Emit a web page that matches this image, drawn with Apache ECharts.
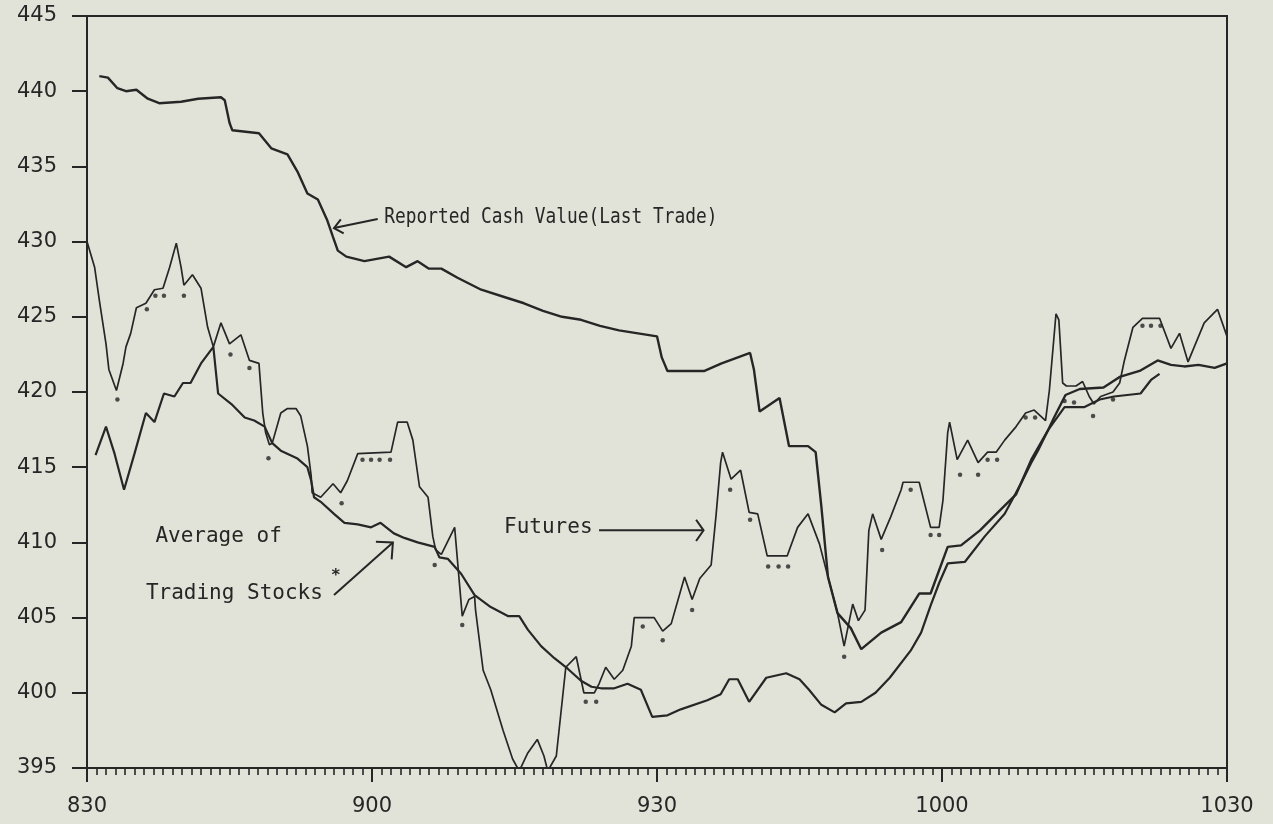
<!DOCTYPE html>
<html>
<head>
<meta charset="utf-8">
<script src="https://cdn.jsdelivr.net/npm/echarts@6/dist/echarts.min.js"></script>
<style>
  html, body { margin: 0; padding: 0; background: #e2e3d8; }
  #chart { width: 1273px; height: 824px; }
</style>
</head>
<body>
<div id="chart"></div>
<script>
// minutes after 8:30 on the x axis
let xTickLabels = ['830', '900', '930', '1000', '1030'];

// Reported Cash Value (Last Trade)
let reportedTime = [1.3, 2.2, 3.2, 4.1, 5.2, 6.4, 7.6, 9.9, 11.7, 14.1, 14.5, 15.0, 15.3, 18.1, 19.4, 21.1, 22.2, 23.2, 24.3, 25.3,
  25.9, 26.4, 27.3, 29.2, 31.8, 33.6, 34.8, 36.0, 37.3, 39.0, 41.5, 44, 46, 48, 50, 52, 54, 56, 58, 60.0,
  60.5, 61.1, 65, 66.8, 69.8, 70.2, 70.8, 72.9, 73.9, 75.9, 76.7, 77.3, 78.0, 79.0, 80.4, 81.5, 83.6, 85.7, 87.6, 88.8,
  90.6, 92.0, 94.0, 96.2, 97.8, 99.4, 101.2, 101.8, 103, 104.5, 107, 108.7, 110.8, 112.7, 114.1, 115.5, 117, 118.7, 120];
let reportedValue = [441.0, 440.9, 440.2, 440.0, 440.1, 439.5, 439.2, 439.3, 439.5, 439.6, 439.4, 437.9, 437.4, 437.2, 436.2, 435.8, 434.6, 433.2, 432.8, 431.4,
  430.3, 429.4, 429.0, 428.7, 429.0, 428.3, 428.7, 428.2, 428.2, 427.6, 426.8, 426.3, 425.9, 425.4, 425.0, 424.8, 424.4, 424.1, 423.9, 423.7,
  422.3, 421.4, 421.4, 421.9, 422.6, 421.5, 418.7, 419.6, 416.4, 416.4, 416.0, 412.4, 407.7, 405.3, 404.3, 402.9, 404.0, 404.7, 406.6, 406.6,
  409.7, 409.8, 410.8, 412.2, 413.2, 415.5, 417.5, 418.3, 419.8, 420.2, 420.3, 421.0, 421.4, 422.1, 421.8, 421.7, 421.8, 421.6, 421.9];

// Futures
let futuresTime = [0, 0.8, 1.3, 2.0, 2.3, 3.1, 3.8, 4.1, 4.6, 5.2, 6.2, 7.1, 8.0, 8.7, 9.4, 9.9, 10.2, 11.1, 12.0, 12.7,
  13.3, 14.1, 15.0, 16.2, 17.1, 18.1, 18.5, 18.8, 19.2, 19.5, 20.4, 21.1, 22.0, 22.5, 23.2, 23.6, 23.7, 24.6, 25.9, 26.7,
  27.4, 28.5, 32.0, 32.7, 33.7, 34.3, 35.0, 35.9, 36.4, 36.7, 37.3, 38.7, 39.2, 39.5, 40.2, 40.8, 40.9, 41.7, 42.5, 43.8,
  44.8, 45.5, 46.4, 47.4, 48.1, 48.5, 49.4, 50.4, 51.5, 52.3, 53.4, 53.9, 54.6, 55.5, 56.4, 57.3, 57.6, 59.7, 60.6, 61.5,
  62.9, 63.7, 64.5, 65.7, 66.2, 66.7, 66.9, 67.8, 68.8, 69.7, 70.6, 71.6, 73.7, 74.8, 75.9, 77.1, 78.0, 79.0, 79.7, 80.6,
  81.2, 81.9, 82.3, 82.7, 83.6, 84.6, 85.7, 85.9, 87.6, 88.8, 89.7, 90.1, 90.6, 90.8, 91.6, 92.7, 93.8, 94.8, 95.7, 96.6,
  97.8, 98.8, 99.7, 100.9, 101.3, 102.0, 102.3, 102.7, 103.1, 104.1, 104.8, 105.5, 106.0, 106.7, 108.0, 108.7, 109.2, 110.1, 111.1, 112.9,
  114.1, 115.0, 115.9, 117.6, 119.0, 120];
let futuresValue = [430.0, 428.3, 426.1, 423.2, 421.5, 420.1, 421.9, 423.0, 423.9, 425.6, 425.9, 426.8, 426.9, 428.3, 429.9, 428.3, 427.1, 427.8, 426.9, 424.3,
  423.0, 424.6, 423.2, 423.8, 422.1, 421.9, 418.6, 417.3, 416.5, 416.6, 418.6, 418.9, 418.9, 418.4, 416.4, 414.4, 413.3, 413.0, 413.9, 413.3,
  414.1, 415.9, 416.0, 418.0, 418.0, 416.8, 413.7, 413.0, 410.4, 409.5, 409.2, 411.0, 407.3, 405.1, 406.2, 406.4, 405.5, 401.5, 400.2, 397.5,
  395.6, 394.8, 396.0, 396.9, 395.8, 394.8, 395.8, 401.7, 402.4, 400.0, 400.0, 400.6, 401.7, 400.9, 401.5, 403.1, 405.0, 405.0, 404.1, 404.6,
  407.7, 406.2, 407.6, 408.5, 411.7, 415.3, 416.0, 414.2, 414.8, 412.0, 411.9, 409.1, 409.1, 411.0, 411.9, 409.9, 407.7, 405.3, 403.1, 405.9,
  404.8, 405.5, 410.8, 411.9, 410.2, 411.7, 413.5, 414.0, 414.0, 411.0, 411.0, 412.8, 417.3, 418.0, 415.5, 416.8, 415.3, 416.0, 416.0, 416.8,
  417.7, 418.6, 418.8, 418.1, 420.1, 425.2, 424.8, 420.6, 420.4, 420.4, 420.7, 419.7, 419.2, 419.7, 420.0, 420.6, 422.1, 424.3, 424.9, 424.9,
  422.9, 423.9, 422.0, 424.6, 425.5, 423.7];

// dotted points printed under the futures line
let dotTime = [3.2, 6.3, 7.2, 8.1, 10.2, 15.1, 17.1, 19.1, 26.8, 29.0, 29.9, 30.8, 31.9, 36.6, 39.5, 52.5, 53.6, 58.5, 60.6, 63.7,
  67.7, 69.8, 71.7, 72.8, 73.8, 79.7, 83.7, 86.7, 88.8, 89.7, 91.9, 93.8, 94.8, 95.8, 98.8, 99.8, 102.9, 103.9, 105.9, 108.0,
  111.1, 112.0, 113.0];
let dotValue = [419.5, 425.5, 426.4, 426.4, 426.4, 422.5, 421.6, 415.6, 412.6, 415.5, 415.5, 415.5, 415.5, 408.5, 404.5, 399.4, 399.4, 404.4, 403.5, 405.5,
  413.5, 411.5, 408.4, 408.4, 408.4, 402.4, 409.5, 413.5, 410.5, 410.5, 414.5, 414.5, 415.5, 415.5, 418.3, 418.3, 419.4, 419.3, 418.4, 419.5,
  424.4, 424.4, 424.4];

// Average of Trading Stocks
let stocksTime = [0.9, 2.0, 2.9, 3.9, 5.0, 6.2, 7.1, 8.1, 9.2, 10.1, 10.9, 12.0, 13.3, 13.8, 15.2, 16.6, 17.6, 18.7, 19.5, 20.4,
  22.1, 23.2, 23.6, 23.9, 24.6, 26.0, 27.1, 28.5, 29.9, 30.9, 32.3, 33.4, 34.8, 36.6, 37.1, 38.0, 39.4, 40.8, 42.5, 44.3,
  45.5, 46.4, 47.8, 49.2, 50.6, 52.0, 53.1, 54.1, 55.5, 56.9, 58.3, 59.5, 61.1, 62.5, 65.3, 66.7, 67.6, 68.5, 69.7, 71.5,
  73.6, 75.0, 76.0, 77.3, 78.7, 79.9, 81.5, 83.0, 84.5, 86.7, 87.8, 88.8, 89.7, 90.6, 92.4, 94.5, 96.6, 98.3, 99.4, 100.1,
  101.2, 102.9, 105.0, 106.6, 108.1, 110.9, 112.0, 112.9];
let stocksValue = [415.8, 417.7, 415.9, 413.5, 415.9, 418.6, 418.0, 419.9, 419.7, 420.6, 420.6, 421.9, 423.0, 419.9, 419.2, 418.3, 418.1, 417.7, 416.6, 416.1,
  415.6, 415.0, 414.1, 413.0, 412.7, 411.9, 411.3, 411.2, 411.0, 411.3, 410.6, 410.3, 410.0, 409.7, 409.0, 408.9, 407.9, 406.5, 405.7, 405.1,
  405.1, 404.2, 403.1, 402.3, 401.6, 400.8, 400.4, 400.3, 400.3, 400.6, 400.2, 398.4, 398.5, 398.9, 399.5, 399.9, 400.9, 400.9, 399.4, 401.0,
  401.3, 400.9, 400.2, 399.2, 398.7, 399.3, 399.4, 400.0, 401.0, 402.8, 404.0, 405.8, 407.3, 408.6, 408.7, 410.4, 411.9, 413.9, 415.3, 416.1,
  417.5, 419.0, 419.0, 419.5, 419.7, 419.9, 420.8, 421.2];

// hand written notes on the plot (data coordinates)
let notes = [
  { text: 'Reported Cash Value(Last Trade)', at: [31.3, 431.6], squeeze: 0.85 },
  { text: 'Futures', at: [43.9, 411.0], squeeze: 1 },
  { text: 'Average of', at: [7.2, 410.4], squeeze: 1 },
  { text: 'Trading Stocks', at: [6.2, 406.6], squeeze: 1 }
];
let arrows = [
  { from: [30.6, 431.5], to: [26.0, 430.9], head: 11, spread: 40 },
  { from: [53.9, 410.8], to: [64.9, 410.8], head: 13, spread: 55 },
  { from: [26.0, 406.5], to: [32.2, 410.0], head: 17, spread: 44 }
];
let starAt = [26.2, 407.8];

function zip(a, b) {
  return a.map((t, i) => [t, b[i]]);
}

let ink = '#262626';
let chart = echarts.init(document.getElementById('chart'));

let option = {
  backgroundColor: '#e2e3d8',
  animation: false,
  grid: {
    left: 87, right: 46, top: 16, bottom: 56,
    show: true, borderColor: ink, borderWidth: 2, backgroundColor: 'transparent'
  },
  xAxis: [
    {
      // one small tick per minute, labels on the half hours
      type: 'value', min: 0, max: 120, interval: 1,
      axisLine: { lineStyle: { color: ink, width: 2 } },
      axisTick: { show: true, length: 7, lineStyle: { color: ink, width: 1.6 } },
      splitLine: { show: false },
      axisLabel: {
        margin: 28, color: ink, fontFamily: 'DejaVu Sans', fontSize: 21,
        showMinLabel: true, showMaxLabel: true,
        formatter: (v) => (v % 30 === 0 ? xTickLabels[v / 30] : '')
      }
    },
    {
      // the longer half hour ticks
      type: 'value', min: 0, max: 120, interval: 30, position: 'bottom',
      axisLine: { show: true, lineStyle: { color: ink, width: 2 } },
      axisTick: { show: true, length: 14, lineStyle: { color: ink, width: 2 } },
      axisLabel: { show: false },
      splitLine: { show: false }
    }
  ],
  yAxis: {
    type: 'value', min: 395, max: 445, interval: 5,
    axisLine: { show: true, lineStyle: { color: ink, width: 2 } },
    axisTick: { length: 15, lineStyle: { color: ink, width: 2 } },
    splitLine: { show: false },
    axisLabel: { margin: 30, color: ink, fontFamily: 'DejaVu Sans', fontSize: 21 }
  },
  series: [
    {
      name: 'Reported Cash Value', type: 'line', data: zip(reportedTime, reportedValue),
      showSymbol: false, lineStyle: { color: ink, width: 2.4 }
    },
    {
      name: 'Futures', type: 'line', data: zip(futuresTime, futuresValue),
      showSymbol: false, lineStyle: { color: ink, width: 1.7 }
    },
    {
      name: 'Average of Trading Stocks', type: 'line', data: zip(stocksTime, stocksValue),
      showSymbol: false, lineStyle: { color: ink, width: 2.2 }
    },
    {
      name: 'Futures dots', type: 'scatter', data: zip(dotTime, dotValue),
      symbolSize: 4.5, itemStyle: { color: ink }
    }
  ]
};
chart.setOption(option);

// notes and arrows, placed through the axes
function px(p) {
  return chart.convertToPixel({ xAxisIndex: 0, yAxisIndex: 0 }, p);
}
let graphics = [];
notes.forEach(n => {
  let p = px(n.at);
  graphics.push({
    type: 'text', x: p[0], y: p[1], scaleX: n.squeeze,
    style: { text: n.text, fill: ink, font: '21px "DejaVu Sans Mono"', verticalAlign: 'middle' }
  });
});
let sp = px(starAt);
graphics.push({
  type: 'text', x: sp[0], y: sp[1],
  style: { text: '*', fill: ink, font: 'bold 16px "DejaVu Sans Mono"', align: 'center', verticalAlign: 'middle' }
});
arrows.forEach(a => {
  let p0 = px(a.from), p1 = px(a.to);
  let ang = Math.atan2(p0[1] - p1[1], p0[0] - p1[0]);
  let s = a.spread * Math.PI / 180;
  let b1 = [p1[0] + a.head * Math.cos(ang + s), p1[1] + a.head * Math.sin(ang + s)];
  let b2 = [p1[0] + a.head * Math.cos(ang - s), p1[1] + a.head * Math.sin(ang - s)];
  graphics.push({ type: 'polyline', shape: { points: [p0, p1] }, style: { stroke: ink, lineWidth: 2, fill: null } });
  graphics.push({ type: 'polyline', shape: { points: [b1, p1, b2] }, style: { stroke: ink, lineWidth: 2, fill: null } });
});
chart.setOption({ graphic: graphics });
</script>
</body>
</html>
